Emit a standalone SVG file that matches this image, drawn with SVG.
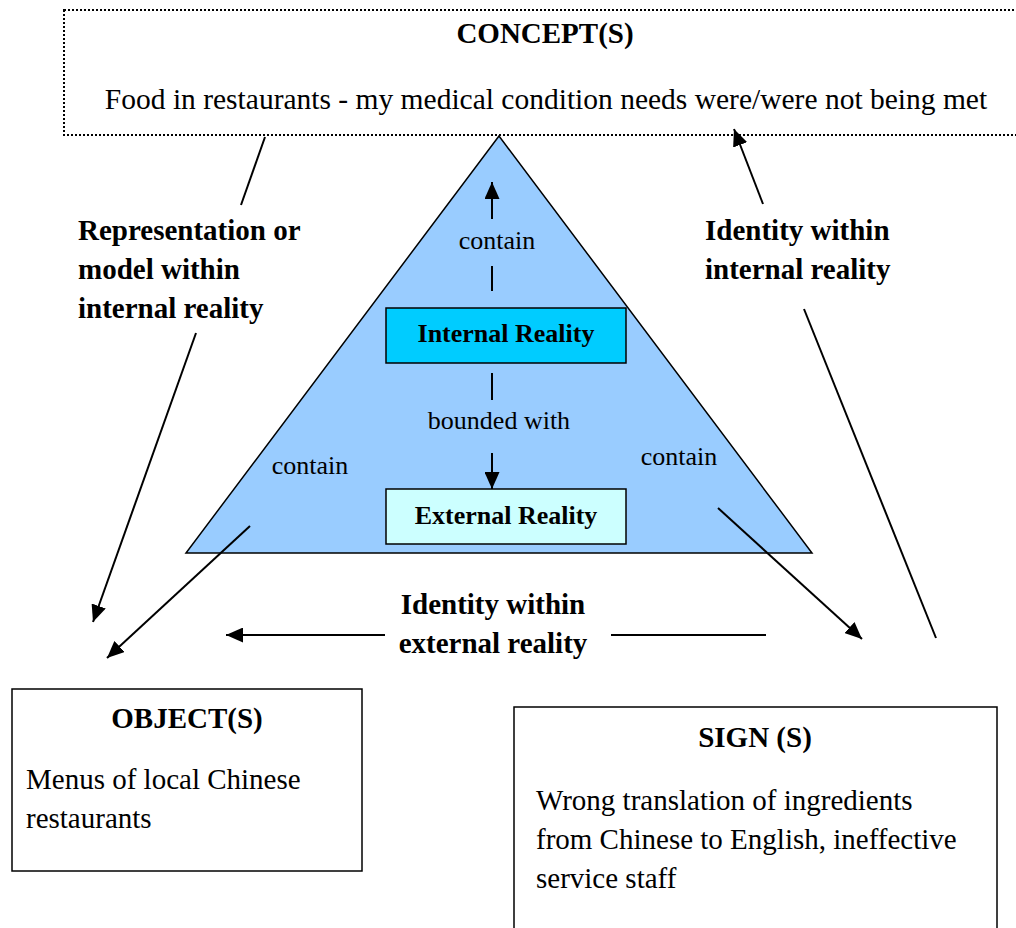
<svg xmlns="http://www.w3.org/2000/svg" width="1016" height="928" viewBox="0 0 1016 928">
  <style>
    text { font-family: "Liberation Serif", "Times New Roman", serif; fill: #000; }
    .big { font-size: 29px; }
    .wide { font-size: 29.5px; }
    .mid { font-size: 26px; }
    .b { font-weight: bold; }
    .mid-anchor { text-anchor: middle; }
    .box { fill: #fff; stroke: #000; stroke-width: 1.5; }
    .conn { fill: none; stroke: #000; stroke-width: 2; }
  </style>
  <defs>
    <marker id="arrow" markerUnits="userSpaceOnUse" markerWidth="18" markerHeight="15" refX="17" refY="7.5" orient="auto">
      <path d="M0,0 L17,7.5 L0,15 z" fill="#000"/>
    </marker>
  </defs>

  <rect width="1016" height="928" fill="#fff"/>

  <!-- concept box (dotted, runs off the right edge) -->
  <g id="concept">
    <rect x="64" y="10" width="1000" height="125" fill="#fff" stroke="#000" stroke-width="2" stroke-dasharray="2 2"/>
    <text class="big b mid-anchor" x="545" y="43">CONCEPT(S)</text>
    <text class="wide mid-anchor" x="546" y="109">Food in restaurants - my medical condition needs were/were not being met</text>
  </g>

  <!-- reality triangle -->
  <g id="triangle">
    <polygon points="499,136 186,553 812,553" fill="#99ccff" stroke="#000" stroke-width="1.5"/>
    <text class="mid mid-anchor" x="497" y="249">contain</text>
    <text class="mid mid-anchor" x="499" y="429">bounded with</text>
    <text class="mid mid-anchor" x="310" y="474">contain</text>
    <text class="mid mid-anchor" x="679" y="465">contain</text>
  </g>

  <g id="internal-reality">
    <rect x="386" y="308" width="240" height="55" fill="#00ccff" stroke="#000" stroke-width="1.5"/>
    <text class="mid b mid-anchor" x="506" y="342">Internal Reality</text>
  </g>

  <g id="external-reality">
    <rect x="386" y="489" width="240" height="55" fill="#ccffff" stroke="#000" stroke-width="1.5"/>
    <text class="mid b mid-anchor" x="506" y="524">External Reality</text>
  </g>

  <!-- edge labels -->
  <g id="label-representation">
    <text class="big b" x="78" y="240">Representation or</text>
    <text class="big b" x="78" y="279">model within</text>
    <text class="big b" x="78" y="318">internal reality</text>
  </g>
  <g id="label-identity-internal">
    <text class="big b" x="705" y="240">Identity within</text>
    <text class="big b" x="705" y="279">internal reality</text>
  </g>
  <g id="label-identity-external">
    <text class="big b mid-anchor" x="493" y="614">Identity within</text>
    <text class="big b mid-anchor" x="493" y="653">external reality</text>
  </g>

  <g id="object">
    <rect class="box" x="12" y="689" width="350" height="182"/>
    <text class="big b mid-anchor" x="187" y="728">OBJECT(S)</text>
    <text class="big" x="26" y="789">Menus of local Chinese</text>
    <text class="big" x="26" y="828">restaurants</text>
  </g>

  <g id="sign">
    <rect class="box" x="514" y="707" width="483" height="240"/>
    <text class="big b mid-anchor" x="755" y="747">SIGN (S)</text>
    <text class="big" x="536" y="810">Wrong translation of ingredients</text>
    <text class="big" x="536" y="849">from Chinese to English, ineffective</text>
    <text class="big" x="536" y="888">service staff</text>
  </g>

  <!-- connectors -->
  <g id="connectors">
    <!-- inside the triangle -->
    <line class="conn" x1="492" y1="219" x2="492" y2="182" marker-end="url(#arrow)"/>
    <line class="conn" x1="492" y1="266" x2="492" y2="291"/>
    <line class="conn" x1="492" y1="373" x2="492" y2="400"/>
    <line class="conn" x1="492" y1="453" x2="492" y2="489" marker-end="url(#arrow)"/>

    <!-- concept to object -->
    <line class="conn" x1="265" y1="137" x2="241" y2="205"/>
    <line class="conn" x1="196" y1="333" x2="93" y2="622" marker-end="url(#arrow)"/>

    <!-- sign to concept -->
    <line class="conn" x1="763" y1="204" x2="734" y2="129" marker-end="url(#arrow)"/>
    <line class="conn" x1="804" y1="309" x2="936" y2="638"/>

    <!-- triangle to object / sign -->
    <line class="conn" x1="250" y1="526" x2="107" y2="658" marker-end="url(#arrow)"/>
    <line class="conn" x1="718" y1="508" x2="862" y2="639" marker-end="url(#arrow)"/>

    <!-- sign to object -->
    <line class="conn" x1="766" y1="635" x2="611" y2="635"/>
    <line class="conn" x1="385" y1="635" x2="226" y2="635" marker-end="url(#arrow)"/>
  </g>
</svg>
